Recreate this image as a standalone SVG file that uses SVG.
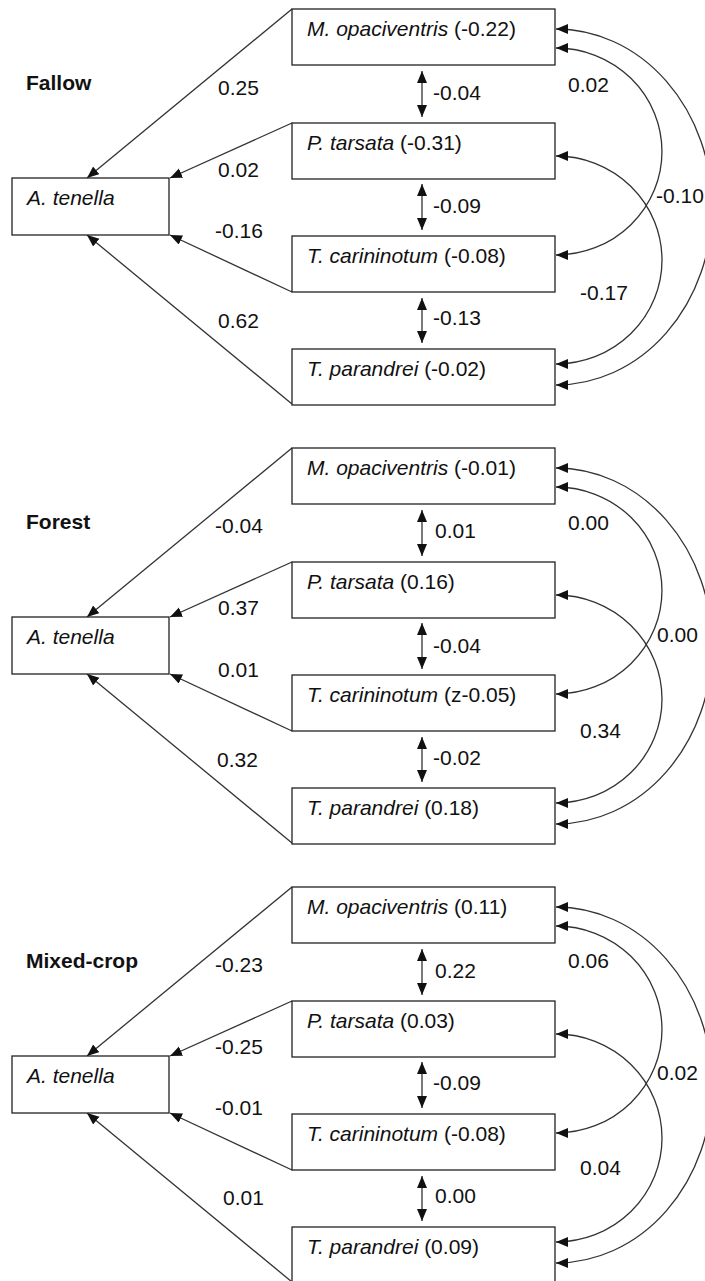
<svg xmlns="http://www.w3.org/2000/svg" width="705" height="1281" viewBox="0 0 705 1281">
<style>
text{font-family:"Liberation Sans",Arial,sans-serif;font-size:21px;fill:#111}
.t{font-weight:bold}
.i{font-style:italic}
.box{fill:#fff;stroke:#222;stroke-width:1.3}
.c{fill:none;stroke:#333;stroke-width:1.3}
.a{marker-end:url(#ah)}
.d{marker-start:url(#ah);marker-end:url(#ah)}
</style>
<defs>
<marker id="ah" markerUnits="userSpaceOnUse" markerWidth="13" markerHeight="11" refX="12" refY="5" orient="auto-start-reverse">
<path d="M0,0 L12,5 L0,10 z" fill="#111"/>
</marker>
</defs>

<!-- Panel: Fallow -->
<g id="fallow">
<text class="t" x="26" y="90">Fallow</text>
<g id="f-connectors">
<path class="c a" d="M292,9 L87,178"/>
<path class="c a" d="M292,123 L170,178"/>
<path class="c a" d="M292,292 L170,235"/>
<path class="c a" d="M292,404 L87,235"/>
<path class="c d" d="M422,71 L422,117"/>
<path class="c d" d="M422,184 L422,230"/>
<path class="c d" d="M422,298 L422,343"/>
<path class="c d" d="M556,29 A156,178 0 0 1 556,385"/>
<path class="c d" d="M556,48 A106,103.5 0 0 1 556,255"/>
<path class="c d" d="M556,156 A106,104 0 0 1 556,364"/>
<text x="218" y="95">0.25</text>
<text x="218" y="177">0.02</text>
<text x="215" y="238">-0.16</text>
<text x="218" y="328">0.62</text>
<text x="433" y="100">-0.04</text>
<text x="433" y="213">-0.09</text>
<text x="433" y="325">-0.13</text>
<text x="568" y="92">0.02</text>
<text x="656" y="203">-0.10</text>
<text x="580" y="300">-0.17</text>
</g>
<g id="f-tenella"><rect class="box" x="12" y="178" width="157" height="57"/><text class="i" x="27" y="205">A. tenella</text></g>
<g id="f-mop"><rect class="box" x="292" y="9" width="263" height="56"/><text x="307" y="36"><tspan class="i">M. opaciventris</tspan> (-0.22)</text></g>
<g id="f-pta"><rect class="box" x="292" y="123" width="263" height="56"/><text x="307" y="150"><tspan class="i">P. tarsata</tspan> (-0.31)</text></g>
<g id="f-tca"><rect class="box" x="292" y="236" width="263" height="56"/><text x="307" y="263"><tspan class="i">T. carininotum</tspan> (-0.08)</text></g>
<g id="f-tpa"><rect class="box" x="292" y="349" width="263" height="56"/><text x="307" y="376"><tspan class="i">T. parandrei</tspan> (-0.02)</text></g>
</g>

<!-- Panel: Forest -->
<g id="forest" transform="translate(0,439)">
<text class="t" x="26" y="90">Forest</text>
<g id="fo-connectors">
<path class="c a" d="M292,9 L87,178"/>
<path class="c a" d="M292,123 L170,178"/>
<path class="c a" d="M292,292 L170,235"/>
<path class="c a" d="M292,404 L87,235"/>
<path class="c d" d="M422,71 L422,117"/>
<path class="c d" d="M422,184 L422,230"/>
<path class="c d" d="M422,298 L422,343"/>
<path class="c d" d="M556,29 A156,178 0 0 1 556,385"/>
<path class="c d" d="M556,48 A106,103.5 0 0 1 556,255"/>
<path class="c d" d="M556,156 A106,104 0 0 1 556,364"/>
<text x="215" y="94">-0.04</text>
<text x="218" y="176">0.37</text>
<text x="218" y="238">0.01</text>
<text x="217" y="328">0.32</text>
<text x="435" y="99">0.01</text>
<text x="433" y="214">-0.04</text>
<text x="433" y="326">-0.02</text>
<text x="568" y="91">0.00</text>
<text x="657" y="203">0.00</text>
<text x="580" y="299">0.34</text>
</g>
<g id="fo-tenella"><rect class="box" x="12" y="178" width="157" height="57"/><text class="i" x="27" y="205">A. tenella</text></g>
<g id="fo-mop"><rect class="box" x="292" y="9" width="263" height="56"/><text x="307" y="36"><tspan class="i">M. opaciventris</tspan> (-0.01)</text></g>
<g id="fo-pta"><rect class="box" x="292" y="123" width="263" height="56"/><text x="307" y="150"><tspan class="i">P. tarsata</tspan> (0.16)</text></g>
<g id="fo-tca"><rect class="box" x="292" y="236" width="263" height="56"/><text x="307" y="263"><tspan class="i">T. carininotum</tspan> (z-0.05)</text></g>
<g id="fo-tpa"><rect class="box" x="292" y="349" width="263" height="56"/><text x="307" y="376"><tspan class="i">T. parandrei</tspan> (0.18)</text></g>
</g>

<!-- Panel: Mixed-crop -->
<g id="mixed" transform="translate(0,878)">
<text class="t" x="26" y="90">Mixed-crop</text>
<g id="m-connectors">
<path class="c a" d="M292,9 L87,178"/>
<path class="c a" d="M292,123 L170,178"/>
<path class="c a" d="M292,292 L170,235"/>
<path class="c a" d="M292,404 L87,235"/>
<path class="c d" d="M422,71 L422,117"/>
<path class="c d" d="M422,184 L422,230"/>
<path class="c d" d="M422,298 L422,343"/>
<path class="c d" d="M556,29 A156,178 0 0 1 556,385"/>
<path class="c d" d="M556,48 A106,103.5 0 0 1 556,255"/>
<path class="c d" d="M556,156 A106,104 0 0 1 556,364"/>
<text x="215" y="94">-0.23</text>
<text x="215" y="176">-0.25</text>
<text x="215" y="237">-0.01</text>
<text x="223" y="327">0.01</text>
<text x="435" y="100">0.22</text>
<text x="433" y="212">-0.09</text>
<text x="435" y="325">0.00</text>
<text x="568" y="90">0.06</text>
<text x="657" y="202">0.02</text>
<text x="580" y="297">0.04</text>
</g>
<g id="m-tenella"><rect class="box" x="12" y="178" width="157" height="57"/><text class="i" x="27" y="205">A. tenella</text></g>
<g id="m-mop"><rect class="box" x="292" y="9" width="263" height="56"/><text x="307" y="36"><tspan class="i">M. opaciventris</tspan> (0.11)</text></g>
<g id="m-pta"><rect class="box" x="292" y="123" width="263" height="56"/><text x="307" y="150"><tspan class="i">P. tarsata</tspan> (0.03)</text></g>
<g id="m-tca"><rect class="box" x="292" y="236" width="263" height="56"/><text x="307" y="263"><tspan class="i">T. carininotum</tspan> (-0.08)</text></g>
<g id="m-tpa"><rect class="box" x="292" y="349" width="263" height="56"/><text x="307" y="376"><tspan class="i">T. parandrei</tspan> (0.09)</text></g>
</g>
</svg>
